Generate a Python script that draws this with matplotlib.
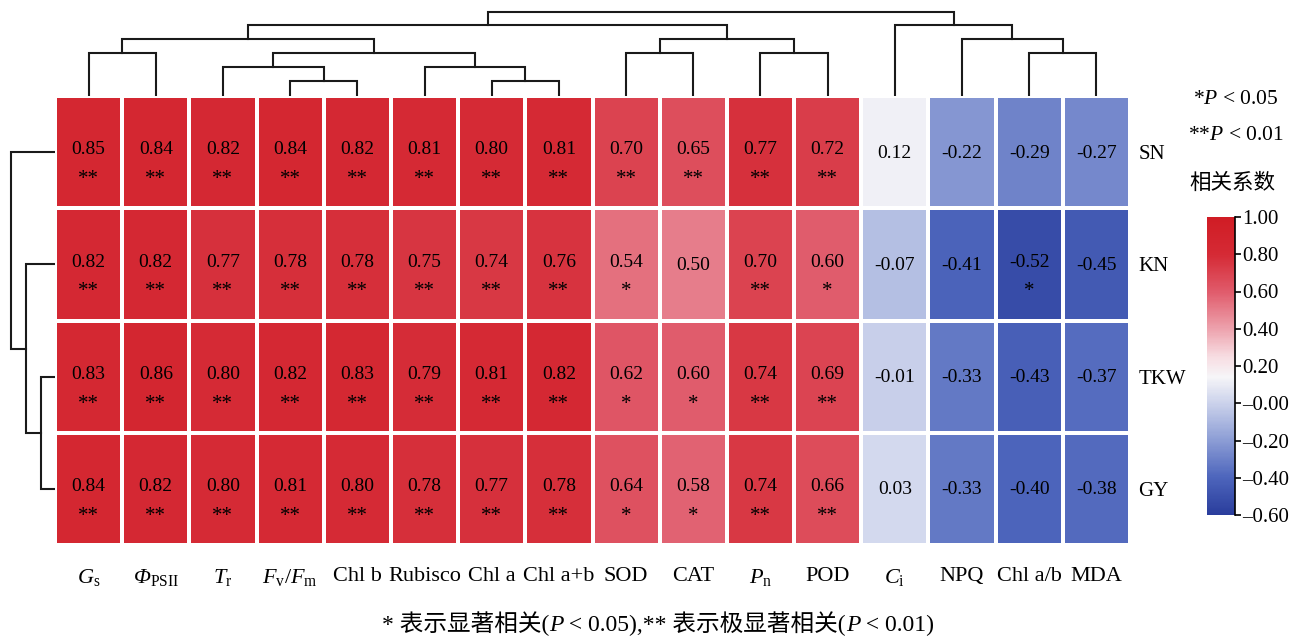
import numpy as np
import matplotlib
matplotlib.use('Agg')
import matplotlib.pyplot as plt
from matplotlib.colors import LinearSegmentedColormap, Normalize
from matplotlib.cm import ScalarMappable
from matplotlib.offsetbox import TextArea, HPacker, AnchoredOffsetbox

plt.rcParams['font.family'] = ['Liberation Serif', 'Noto Sans CJK SC']
plt.rcParams['mathtext.fontset'] = 'custom'
plt.rcParams['mathtext.rm'] = 'Liberation Serif'
plt.rcParams['mathtext.it'] = 'Liberation Serif:italic'
plt.rcParams['mathtext.sf'] = 'Liberation Serif:italic'   # italic capital Greek
plt.rcParams['mathtext.bf'] = 'Liberation Serif:bold'
plt.rcParams['axes.unicode_minus'] = False

# traits (columns, in clustered order) and yield components (rows)
cols = ['$G_{\\mathrm{s}}$', '$\\mathsf{Φ}_{\\mathrm{PSII}}$', '$T_{\\mathrm{r}}$',
        '$F_{\\mathrm{v}}/F_{\\mathrm{m}}$', 'Chl b', 'Rubisco', 'Chl a', 'Chl a+b',
        'SOD', 'CAT', '$P_{\\mathrm{n}}$', 'POD', '$C_{\\mathrm{i}}$', 'NPQ',
        'Chl a/b', 'MDA']
rows = ['SN', 'KN', 'TKW', 'GY']

r_sn = [0.85, 0.84, 0.82, 0.84, 0.82, 0.81, 0.80, 0.81, 0.70, 0.65, 0.77, 0.72, 0.12, -0.22, -0.29, -0.27]
r_kn = [0.82, 0.82, 0.77, 0.78, 0.78, 0.75, 0.74, 0.76, 0.54, 0.50, 0.70, 0.60, -0.07, -0.41, -0.52, -0.45]
r_tkw = [0.83, 0.86, 0.80, 0.82, 0.83, 0.79, 0.81, 0.82, 0.62, 0.60, 0.74, 0.69, -0.01, -0.33, -0.43, -0.37]
r_gy = [0.84, 0.82, 0.80, 0.81, 0.80, 0.78, 0.77, 0.78, 0.64, 0.58, 0.74, 0.66, 0.03, -0.33, -0.40, -0.38]

s_sn = ['**'] * 12 + [''] * 4
s_kn = ['**'] * 8 + ['*', '', '**', '*', '', '', '*', '']
s_tkw = ['**'] * 8 + ['*', '*', '**', '**', '', '', '', '']
s_gy = ['**'] * 8 + ['*', '*', '**', '**', '', '', '', '']

# linkage: (a, b, distance), new cluster ids start after the leaves
col_links = [(3, 4, 15), (6, 7, 15), (2, 16, 29), (5, 17, 29), (0, 1, 43),
             (18, 19, 43), (8, 9, 43), (10, 11, 43), (14, 15, 43), (20, 21, 57),
             (22, 23, 57), (13, 24, 57), (25, 26, 71), (12, 27, 71), (28, 29, 84)]
row_links = [(2, 3, 14), (1, 4, 29), (0, 5, 44)]

cb_ticks = [1.0, 0.8, 0.6, 0.4, 0.2, 0.0, -0.2, -0.4, -0.6]
cb_labels = ['1.00', '0.80', '0.60', '0.40', '0.20', '–0.00', '–0.20', '–0.40', '–0.60']

vals = np.array([r_sn, r_kn, r_tkw, r_gy])
stars = [s_sn, s_kn, s_tkw, s_gy]

vmin, vmax = -0.6, 1.0
nodes = [(-0.6, '#2a3d9c'), (-0.4, '#4d65bc'), (-0.2, '#8c9dd5'), (0.0, '#cbd2eb'),
         (0.14, '#f6f5f8'), (0.25, '#f7dde2'), (0.4, '#eda2ad'), (0.6, '#e05b6b'),
         (0.8, '#d52a35'), (1.0, '#d01c24')]
cmap = LinearSegmentedColormap.from_list(
    'rwb', [((v - vmin) / (vmax - vmin), c) for v, c in nodes])
norm = Normalize(vmin, vmax)

W, H = 1297, 641
fig = plt.figure(figsize=(W / 100, H / 100), dpi=100)

def box(x0, y0, x1, y1):
    return [x0 / W, 1 - y1 / H, (x1 - x0) / W, (y1 - y0) / H]

ax = fig.add_axes(box(55, 96, 1130, 545))
ax.pcolormesh(np.arange(len(cols) + 1), np.arange(len(rows) + 1), vals,
              cmap=cmap, norm=norm, edgecolors='white', linewidth=1.6)
ax.set_xlim(0, len(cols))
ax.set_ylim(len(rows), 0)
for sp in ax.spines.values():
    sp.set_visible(False)

for i in range(len(rows)):
    for j in range(len(cols)):
        v = vals[i, j]
        txt = f'{v:.2f}'
        if stars[i][j]:
            ax.text(j + 0.5, i + 0.48, txt, ha='center', va='center', fontsize=14)
            ax.text(j + 0.5, i + 0.745, stars[i][j], ha='center', va='center', fontsize=15)
        else:
            ax.text(j + 0.5, i + 0.51, txt, ha='center', va='center', fontsize=14)

ax.set_xticks(np.arange(len(cols)) + 0.5)
ax.set_xticklabels(cols, fontsize=16)
ax.tick_params(axis='x', length=0, pad=16)
ax.yaxis.tick_right()
ax.set_yticks(np.arange(len(rows)) + 0.5)
ax.set_yticklabels(rows, fontsize=15)
ax.tick_params(axis='y', length=0, pad=6)


def dendro(dax, links, n, top=True):
    pos = {i: i + 0.5 for i in range(n)}
    hgt = {i: 0 for i in range(n)}
    for k, (a, b, h) in enumerate(links):
        xs = [pos[a], pos[a], pos[b], pos[b]]
        ys = [hgt[a], h, h, hgt[b]]
        if top:
            dax.plot(xs, ys, color='#1a1a1a', lw=1.5, solid_joinstyle='miter')
        else:
            dax.plot(ys, xs, color='#1a1a1a', lw=1.5, solid_joinstyle='miter')
        pos[n + k] = (pos[a] + pos[b]) / 2
        hgt[n + k] = h
    dax.axis('off')


tax = fig.add_axes(box(55, 8, 1130, 96))
dendro(tax, col_links, len(cols), top=True)
tax.set_xlim(0, len(cols))
tax.set_ylim(0, 88)

lax = fig.add_axes(box(8, 96, 55, 545))
dendro(lax, row_links, len(rows), top=False)
lax.set_ylim(len(rows), 0)
lax.set_xlim(47, 0)

# colour bar
cax = fig.add_axes(box(1207, 217, 1235, 515))
cb = fig.colorbar(ScalarMappable(norm=norm, cmap=cmap), cax=cax, ticks=cb_ticks)
cb.outline.set_visible(False)
cax.spines['right'].set_visible(True)
cax.spines['right'].set_linewidth(1.2)
cax.set_yticklabels(cb_labels)
cax.tick_params(length=4, width=1.2, pad=1, labelsize=15)

fig.text(1236 / W, 1 - 100 / H, '*$P$ < 0.05', ha='center', va='center', fontsize=15.5)
fig.text(1236 / W, 1 - 136 / H, '**$P$ < 0.01', ha='center', va='center', fontsize=15.5)
fig.text(1232 / W, 1 - 183 / H, '相关系数', ha='center', va='center', fontsize=15.5,
         family=['Noto Sans CJK SC'])

# footnote with italic P
fam = ['Liberation Serif', 'Noto Sans CJK SC']
pieces = [('* 表示显著相关(', 'normal'), ('P', 'italic'), (' < 0.05),** 表示极显著相关(', 'normal'),
          ('P', 'italic'), (' < 0.01)', 'normal')]
areas = [TextArea(t, textprops=dict(family=fam, style=st, fontsize=17)) for t, st in pieces]
note = HPacker(children=areas, align='baseline', pad=0, sep=0)
fig.add_artist(AnchoredOffsetbox(loc='center', child=note, pad=0, frameon=False,
                                 bbox_to_anchor=(658 / W, 1 - 624 / H),
                                 bbox_transform=fig.transFigure, borderpad=0))

fig.savefig('out.png', dpi=100)
